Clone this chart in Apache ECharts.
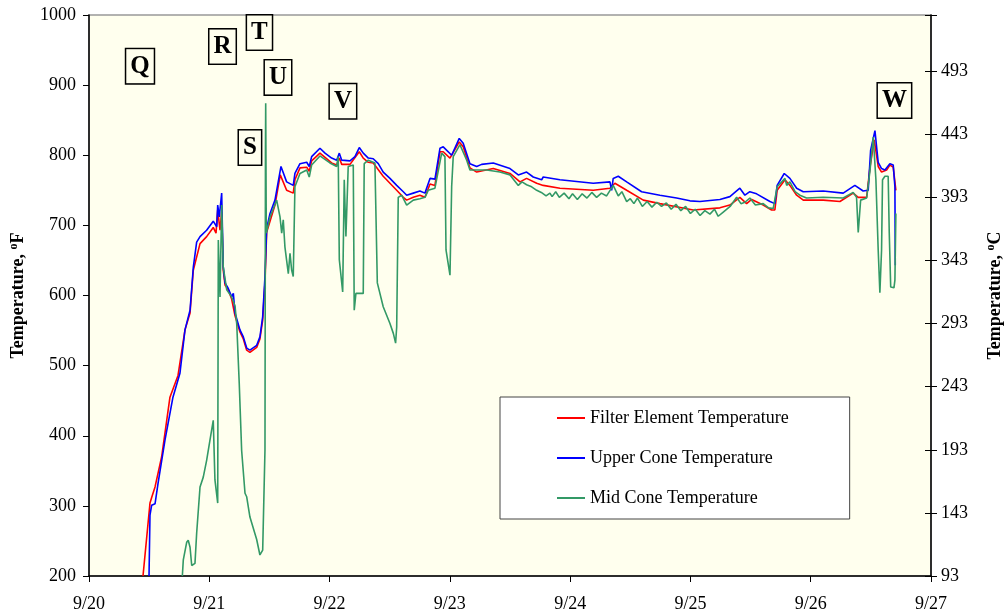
<!DOCTYPE html>
<html><head><meta charset="utf-8">
<script src="https://cdn.jsdelivr.net/npm/echarts@6/dist/echarts.min.js"></script>
<style>html,body{margin:0;padding:0;background:#fff}#c{width:1006px;height:616px}</style>
</head><body><div id="c"></div>
<script>
// x = days since 9/20 00:00, y = °F
const xLabels = ['9/20','9/21','9/22','9/23','9/24','9/25','9/26','9/27'];
const filterElement = [[0.449,200],[0.507,304],[0.521,312],[0.549,327],[0.604,370],[0.673,455],[0.740,486],[0.798,551],[0.840,575],[0.867,636],[0.923,674],[0.978,684],[1.033,697],[1.056,689],[1.070,722],[1.089,693],[1.103,719],[1.116,636],[1.131,615],[1.158,608],[1.186,595],[1.214,571],[1.255,548],[1.283,538],[1.311,522],[1.338,519],[1.394,526],[1.421,538],[1.444,565],[1.463,619],[1.477,690],[1.546,729],[1.590,772],[1.643,750],[1.698,746],[1.712,765],[1.754,782],[1.810,783],[1.831,777],[1.851,792],[1.920,803],[2.017,789],[2.059,786],[2.081,796],[2.101,787],[2.170,787],[2.247,805],[2.280,796],[2.322,790],[2.363,789],[2.446,770],[2.558,750],[2.613,740],[2.641,736],[2.696,740],[2.751,743],[2.793,740],[2.835,759],[2.876,757],[2.918,805],[2.945,805],[3.001,796],[3.078,819],[3.111,812],[3.167,782],[3.223,776],[3.361,781],[3.500,774],[3.583,762],[3.638,767],[3.722,760],[3.776,757],[3.915,753],[4.192,750],[4.331,753],[4.372,760],[4.470,750],[4.608,736],[4.746,731],[5.023,722],[5.245,725],[5.328,729],[5.411,740],[5.467,731],[5.509,737],[5.605,729],[5.675,722],[5.702,722],[5.721,750],[5.786,765],[5.827,757],[5.883,743],[5.938,736],[6.104,736],[6.243,734],[6.353,746],[6.395,740],[6.465,740],[6.492,782],[6.528,822],[6.561,784],[6.589,776],[6.631,779],[6.658,786],[6.686,783],[6.708,750]];
const upperCone = [[0.499,200],[0.507,287],[0.521,301],[0.549,303],[0.574,332],[0.632,394],[0.698,455],[0.756,489],[0.798,551],[0.840,579],[0.867,640],[0.895,676],[0.923,684],[0.978,693],[1.033,706],[1.062,698],[1.070,729],[1.083,712],[1.103,746],[1.116,641],[1.131,618],[1.158,610],[1.172,612],[1.186,598],[1.200,603],[1.214,575],[1.255,551],[1.283,541],[1.311,525],[1.338,522],[1.394,529],[1.421,541],[1.444,570],[1.463,627],[1.477,696],[1.505,717],[1.546,736],[1.596,784],[1.643,762],[1.698,757],[1.712,774],[1.754,788],[1.810,790],[1.831,784],[1.851,798],[1.920,810],[1.962,803],[2.017,796],[2.059,793],[2.081,803],[2.101,793],[2.170,792],[2.211,798],[2.247,811],[2.280,803],[2.322,796],[2.363,795],[2.405,788],[2.446,776],[2.502,767],[2.558,757],[2.613,748],[2.641,743],[2.696,746],[2.751,749],[2.793,746],[2.835,767],[2.876,766],[2.918,810],[2.945,812],[3.015,800],[3.078,824],[3.111,817],[3.167,788],[3.223,784],[3.264,787],[3.361,789],[3.500,781],[3.569,772],[3.638,776],[3.693,769],[3.763,765],[3.776,769],[3.915,765],[4.192,760],[4.331,762],[4.345,750],[4.358,767],[4.400,770],[4.470,762],[4.594,748],[4.746,743],[4.885,739],[4.996,735],[5.079,734],[5.245,737],[5.328,741],[5.411,753],[5.453,743],[5.494,748],[5.550,745],[5.661,734],[5.702,731],[5.721,757],[5.780,774],[5.827,767],[5.883,753],[5.938,748],[6.104,749],[6.270,746],[6.367,757],[6.436,749],[6.478,750],[6.498,807],[6.534,835],[6.561,790],[6.589,781],[6.617,779],[6.658,788],[6.686,786],[6.700,755],[6.703,643]];
const midCone = [[0.776,200],[0.784,223],[0.812,248],[0.825,251],[0.840,241],[0.854,215],[0.881,218],[0.895,261],[0.923,327],[0.950,341],[0.978,365],[1.006,394],[1.033,422],[1.047,337],[1.070,304],[1.075,679],[1.089,598],[1.103,729],[1.116,641],[1.145,608],[1.186,598],[1.214,585],[1.228,560],[1.249,475],[1.269,379],[1.297,318],[1.311,313],[1.338,284],[1.394,252],[1.421,230],[1.444,237],[1.463,380],[1.467,808],[1.469,874],[1.474,689],[1.505,712],[1.560,736],[1.588,712],[1.602,689],[1.615,708],[1.629,669],[1.643,650],[1.657,631],[1.671,660],[1.685,636],[1.698,627],[1.712,755],[1.754,774],[1.810,779],[1.831,769],[1.851,786],[1.920,799],[2.003,789],[2.059,784],[2.072,798],[2.081,651],[2.109,605],[2.122,765],[2.136,684],[2.155,784],[2.197,786],[2.205,579],[2.219,603],[2.280,603],[2.288,788],[2.322,793],[2.377,789],[2.397,618],[2.446,584],[2.502,560],[2.530,546],[2.549,532],[2.558,555],[2.571,740],[2.599,743],[2.641,729],[2.696,736],[2.751,738],[2.793,740],[2.820,750],[2.876,753],[2.932,803],[2.959,798],[2.968,665],[3.001,629],[3.015,755],[3.028,798],[3.084,815],[3.140,793],[3.167,779],[3.306,779],[3.416,776],[3.500,772],[3.569,757],[3.600,762],[3.638,758],[3.680,755],[3.722,750],[3.760,747],[3.800,742],[3.832,746],[3.850,741],[3.880,748],[3.910,740],[3.950,746],[3.990,738],[4.020,745],[4.060,737],[4.100,745],[4.140,739],[4.180,747],[4.220,740],[4.260,746],[4.303,742],[4.358,757],[4.400,742],[4.430,748],[4.470,734],[4.500,738],[4.530,731],[4.560,739],[4.600,727],[4.640,734],[4.680,726],[4.720,733],[4.760,727],[4.800,732],[4.840,723],[4.880,730],[4.920,721],[4.960,727],[5.000,717],[5.040,723],[5.080,714],[5.120,721],[5.162,716],[5.200,723],[5.231,713],[5.273,719],[5.330,727],[5.384,740],[5.420,731],[5.453,733],[5.494,739],[5.540,729],[5.605,731],[5.650,725],[5.688,724],[5.721,755],[5.786,767],[5.800,757],[5.827,762],[5.870,748],[5.910,743],[5.965,739],[6.104,740],[6.270,739],[6.353,747],[6.381,740],[6.395,690],[6.415,736],[6.465,739],[6.492,777],[6.520,826],[6.542,765],[6.561,665],[6.575,604],[6.589,665],[6.597,765],[6.617,770],[6.644,770],[6.653,689],[6.665,612],[6.692,611],[6.700,622],[6.708,717]];
const notes = [
  {t:'Q', x:0.424, y:927},
  {t:'R', x:1.110, y:955},
  {t:'T', x:1.417, y:975},
  {t:'U', x:1.571, y:911},
  {t:'S', x:1.338, y:811},
  {t:'V', x:2.111, y:877},
  {t:'W', x:6.696, y:878}
];
const leftTicks = {min:200, max:1000, step:100};
const cMin = (200-32)/1.8, cMax = (1000-32)/1.8;

const FONT = 'Liberation Serif';
const chart = echarts.init(document.getElementById('c'), null, {renderer:'canvas'});
const lineS = (name, data, color, w) => ({
  name, type:'line', data, symbol:'none', showSymbol:false, animation:false,
  lineStyle:{color, width:w}, itemStyle:{color}, z:3
});
const red = lineS('Filter Element Temperature', filterElement, '#FF0000', 1.6);
red.markPoint = {
  symbol:'rect', symbolSize:[1,1], itemStyle:{color:'rgba(0,0,0,0)'}, animation:false,
  data: notes.map(n => ({name:n.t, coord:[n.x, n.y]})),
  label:{show:true, position:'inside', formatter:'{b}', color:'#000', fontFamily:FONT,
    fontWeight:'bold', fontSize:25, backgroundColor:'#FFFFEE', borderColor:'#000', borderWidth:1.5,
    padding:[4,4,3,4], lineHeight:27}
};
chart.setOption({
  backgroundColor:'#fff',
  animation:false,
  grid:{left:89, right:75, top:15, bottom:40, containLabel:false, outerBoundsMode:'none',
    show:true, backgroundColor:'#FFFFEE', borderColor:'#999', borderWidth:1.5},
  legend:{
    data:['Filter Element Temperature','Upper Cone Temperature','Mid Cone Temperature'],
    orient:'vertical', left:500, top:397, backgroundColor:'#fff', borderColor:'#444', borderWidth:1,
    padding:[12,61,12,57], itemGap:22, itemWidth:28, itemHeight:2, icon:'rect',
    textStyle:{fontFamily:FONT, fontSize:18, color:'#000'}, selectedMode:false
  },
  xAxis:{type:'value', min:0, max:7, interval:1,
    axisLine:{lineStyle:{color:'#000', width:1.5}},
    axisTick:{inside:false, length:6, lineStyle:{color:'#000'}},
    splitLine:{show:false},
    axisLabel:{formatter:v => xLabels[Math.round(v)], fontFamily:FONT, fontSize:18, color:'#000', margin:19}},
  yAxis:[
    {type:'value', min:leftTicks.min, max:leftTicks.max, interval:leftTicks.step, position:'left',
     name:'Temperature, {sup|o}F', nameLocation:'middle', nameRotate:90, nameGap:60,
     nameTextStyle:{fontFamily:FONT, fontSize:18, fontWeight:'bold', color:'#000',
       rich:{sup:{fontFamily:FONT, fontSize:12, fontWeight:'bold', color:'#000', padding:[0,0,9,0]}}},
     axisLine:{show:true, lineStyle:{color:'#000', width:1.5}},
     axisTick:{show:true, inside:false, length:6, lineStyle:{color:'#000'}},
     splitLine:{show:false},
     axisLabel:{fontFamily:FONT, fontSize:18, color:'#000', margin:13, formatter:v => String(v)}},
    {type:'value', min:cMin, max:cMax, interval:50, position:'right',
     name:'Temperature, {sup|o}C', nameLocation:'middle', nameRotate:90, nameGap:54,
     nameTextStyle:{fontFamily:FONT, fontSize:18, fontWeight:'bold', color:'#000',
       rich:{sup:{fontFamily:FONT, fontSize:12, fontWeight:'bold', color:'#000', padding:[0,0,9,0]}}},
     axisLine:{show:true, lineStyle:{color:'#000', width:1.5}},
     axisTick:{show:true, inside:false, length:6, lineStyle:{color:'#000'}},
     splitLine:{show:false},
     axisLabel:{fontFamily:FONT, fontSize:18, color:'#000', margin:10,
       formatter:v => v > 500 ? '' : String(Math.round(v))}},
    {type:'value', min:cMin, max:cMax, interval:50, position:'right',
     axisLine:{show:false}, axisLabel:{show:false}, splitLine:{show:false},
     axisTick:{show:true, inside:true, length:6, lineStyle:{color:'#000'}}}
  ],
  series:[
    red,
    lineS('Upper Cone Temperature', upperCone, '#0000FF', 1.6),
    lineS('Mid Cone Temperature', midCone, '#339966', 1.6)
  ]
});
</script></body></html>
